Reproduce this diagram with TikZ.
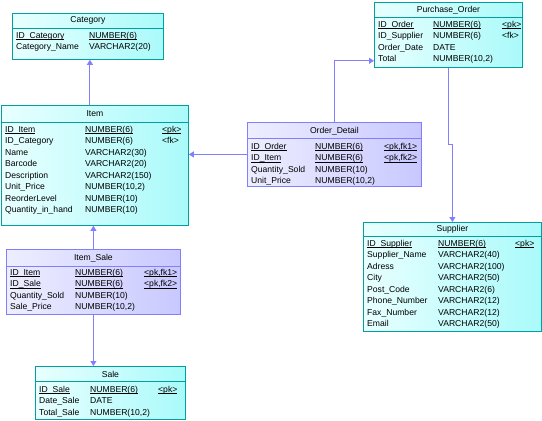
\documentclass[tikz,border=0pt]{standalone}
\usepackage{fontspec}
\setmainfont{Liberation Sans}
\usepackage{tikz}
\usetikzlibrary{arrows.meta,positioning,calc}
\usepackage{xcolor}
\definecolor{tblline}{RGB}{0,160,160}
\definecolor{tblfillA}{RGB}{232,255,255}
\definecolor{tblfillB}{RGB}{170,250,250}
\definecolor{lnkline}{RGB}{128,128,255}
\definecolor{lnkfillA}{RGB}{238,238,255}
\definecolor{lnkfillB}{RGB}{200,200,255}
\newcommand{\ukey}[1]{\underline{\smash{#1}}}

\begin{document}
\begin{tikzpicture}[x=1pt, y=1pt,
    tbl/.style={draw=tblline, line width=0.8pt, left color=tblfillA, right color=tblfillB,
                anchor=north west, inner sep=0pt},
    lnk/.style={draw=lnkline, line width=0.8pt, left color=lnkfillA, right color=lnkfillB,
                anchor=north west, inner sep=0pt},
    ttl/.style={inner sep=0pt, font=\fontsize{8.6}{10}\selectfont},
    fld/.style={anchor=base west, inner sep=0pt, font=\fontsize{8.6}{10}\selectfont},
    rel/.style={draw=lnkline, line width=0.9pt, -{Triangle[length=5pt,width=6pt]}}]

    \useasboundingbox (0,0) rectangle (542,-421);

    % Category
    \begin{scope}[shift={(12,-13)}]
        \node[tbl, minimum width=151pt, minimum height=46pt] (category) at (0,0) {};
        \node[ttl] (category-t) at ([yshift=-7pt]category.north) {Category};
        \draw[tblline, line width=0.8pt] ([yshift=-15pt]category.north west) -- ([yshift=-15pt]category.north east);
        \foreach \a/\b [count=\i from 0] in {{\ukey{ID\_Category}}/{\ukey{NUMBER(6)}},
                                             {Category\_Name}/{VARCHAR2(20)}} {
            \node[fld] (category-a\i) at (4,{-25-11.5*\i}) {\a};
            \node[fld] (category-b\i) at (77,{-25-11.5*\i}) {\b};
        }
    \end{scope}

    % Purchase_Order
    \begin{scope}[shift={(374,-2)}]
        \node[tbl, minimum width=148pt, minimum height=65pt] (purchase) at (0,0) {};
        \node[ttl] (purchase-t) at ([yshift=-8pt]purchase.north) {Purchase\_Order};
        \draw[tblline, line width=0.8pt] ([yshift=-15pt]purchase.north west) -- ([yshift=-15pt]purchase.north east);
        \foreach \a/\b/\c [count=\i from 0] in {{\ukey{ID\_Order}}/{\ukey{NUMBER(6)}}/{\ukey{<pk>}},
                                                {ID\_Supplier}/{NUMBER(6)}/{<fk>},
                                                {Order\_Date}/{DATE}/{},
                                                {Total}/{NUMBER(10,2)}/{}} {
            \node[fld] (purchase-a\i) at (4,{-25-11.5*\i}) {\a};
            \node[fld] (purchase-b\i) at (59,{-25-11.5*\i}) {\b};
            \node[fld] (purchase-c\i) at (128,{-25-11.5*\i}) {\c};
        }
    \end{scope}

    % Item
    \begin{scope}[shift={(1,-105)}]
        \node[tbl, minimum width=187pt, minimum height=120pt] (item) at (0,0) {};
        \node[ttl] (item-t) at ([yshift=-9pt]item.north) {Item};
        \draw[tblline, line width=0.8pt] ([yshift=-17pt]item.north west) -- ([yshift=-17pt]item.north east);
        \foreach \a/\b/\c [count=\i from 0] in {{\ukey{ID\_Item}}/{\ukey{NUMBER(6)}}/{\ukey{<pk>}},
                                                {ID\_Category}/{NUMBER(6)}/{<fk>},
                                                {Name}/{VARCHAR2(30)}/{},
                                                {Barcode}/{VARCHAR2(20)}/{},
                                                {Description}/{VARCHAR2(150)}/{},
                                                {Unit\_Price}/{NUMBER(10,2)}/{},
                                                {ReorderLevel}/{NUMBER(10)}/{},
                                                {Quantity\_in\_hand}/{NUMBER(10)}/{}} {
            \node[fld] (item-a\i) at (4,{-27-11.5*\i}) {\a};
            \node[fld] (item-b\i) at (84,{-27-11.5*\i}) {\b};
            \node[fld] (item-c\i) at (161,{-27-11.5*\i}) {\c};
        }
    \end{scope}

    % Order_Detail
    \begin{scope}[shift={(247,-122)}]
        \node[lnk, minimum width=174pt, minimum height=64pt] (orderdetail) at (0,0) {};
        \node[ttl] (orderdetail-t) at ([yshift=-9pt]orderdetail.north) {Order\_Detail};
        \draw[lnkline, line width=0.8pt] ([yshift=-16pt]orderdetail.north west) -- ([yshift=-16pt]orderdetail.north east);
        \foreach \a/\b/\c [count=\i from 0] in {{\ukey{ID\_Order}}/{\ukey{NUMBER(6)}}/{\ukey{<pk,fk1>}},
                                                {\ukey{ID\_Item}}/{\ukey{NUMBER(6)}}/{\ukey{<pk,fk2>}},
                                                {Quantity\_Sold}/{NUMBER(10)}/{},
                                                {Unit\_Price}/{NUMBER(10,2)}/{}} {
            \node[fld] (orderdetail-a\i) at (4,{-27-11.5*\i}) {\a};
            \node[fld] (orderdetail-b\i) at (68,{-27-11.5*\i}) {\b};
            \node[fld] (orderdetail-c\i) at (137,{-27-11.5*\i}) {\c};
        }
    \end{scope}

    % Item_Sale
    \begin{scope}[shift={(6,-249)}]
        \node[lnk, minimum width=174pt, minimum height=65pt] (itemsale) at (0,0) {};
        \node[ttl] (itemsale-t) at ([yshift=-9pt]itemsale.north) {Item\_Sale};
        \draw[lnkline, line width=0.8pt] ([yshift=-17pt]itemsale.north west) -- ([yshift=-17pt]itemsale.north east);
        \foreach \a/\b/\c [count=\i from 0] in {{\ukey{ID\_Item}}/{\ukey{NUMBER(6)}}/{\ukey{<pk,fk1>}},
                                                {\ukey{ID\_Sale}}/{\ukey{NUMBER(6)}}/{\ukey{<pk,fk2>}},
                                                {Quantity\_Sold}/{NUMBER(10)}/{},
                                                {Sale\_Price}/{NUMBER(10,2)}/{}} {
            \node[fld] (itemsale-a\i) at (4,{-26-11.5*\i}) {\a};
            \node[fld] (itemsale-b\i) at (69,{-26-11.5*\i}) {\b};
            \node[fld] (itemsale-c\i) at (138,{-26-11.5*\i}) {\c};
        }
    \end{scope}

    % Supplier
    \begin{scope}[shift={(363,-222)}]
        \node[tbl, minimum width=178pt, minimum height=109pt] (supplier) at (0,0) {};
        \node[ttl] (supplier-t) at ([yshift=-7pt]supplier.north) {Supplier};
        \draw[tblline, line width=0.8pt] ([yshift=-14pt]supplier.north west) -- ([yshift=-14pt]supplier.north east);
        \foreach \a/\b/\c [count=\i from 0] in {{\ukey{ID\_Supplier}}/{\ukey{NUMBER(6)}}/{\ukey{<pk>}},
                                                {Supplier\_Name}/{VARCHAR2(40)}/{},
                                                {Adress}/{VARCHAR2(100)}/{},
                                                {City}/{VARCHAR2(50)}/{},
                                                {Post\_Code}/{VARCHAR2(6)}/{},
                                                {Phone\_Number}/{VARCHAR2(12)}/{},
                                                {Fax\_Number}/{VARCHAR2(12)}/{},
                                                {Email}/{VARCHAR2(50)}/{}} {
            \node[fld] (supplier-a\i) at (4,{-24-11.5*\i}) {\a};
            \node[fld] (supplier-b\i) at (75,{-24-11.5*\i}) {\b};
            \node[fld] (supplier-c\i) at (152,{-24-11.5*\i}) {\c};
        }
    \end{scope}

    % Sale
    \begin{scope}[shift={(35,-366)}]
        \node[tbl, minimum width=150pt, minimum height=53pt] (sale) at (0,0) {};
        \node[ttl] (sale-t) at ([yshift=-8pt]sale.north) {Sale};
        \draw[tblline, line width=0.8pt] ([yshift=-15pt]sale.north west) -- ([yshift=-15pt]sale.north east);
        \foreach \a/\b/\c [count=\i from 0] in {{\ukey{ID\_Sale}}/{\ukey{NUMBER(6)}}/{\ukey{<pk>}},
                                                {Date\_Sale}/{DATE}/{},
                                                {Total\_Sale}/{NUMBER(10,2)}/{}} {
            \node[fld] (sale-a\i) at (4,{-26-11.5*\i}) {\a};
            \node[fld] (sale-b\i) at (55,{-26-11.5*\i}) {\b};
            \node[fld] (sale-c\i) at (123,{-26-11.5*\i}) {\c};
        }
    \end{scope}

    % References
    \draw[rel] ([xshift=2pt]category.south |- item.north) -- ([xshift=2pt]category.south);
    \draw[rel] (orderdetail.west) -- (orderdetail.west -| item.east);
    \draw[rel] (orderdetail.north) |- ([yshift=7pt]purchase.south west);
    \draw[rel] (purchase.south) |- ($(purchase.south)!0.5!(supplier.north)$) -| (supplier.north);
    \draw[rel] (itemsale.north) -- (itemsale.north |- item.south);
    \draw[rel] (itemsale.south) -- (itemsale.south |- sale.north);
\end{tikzpicture}
\end{document}
